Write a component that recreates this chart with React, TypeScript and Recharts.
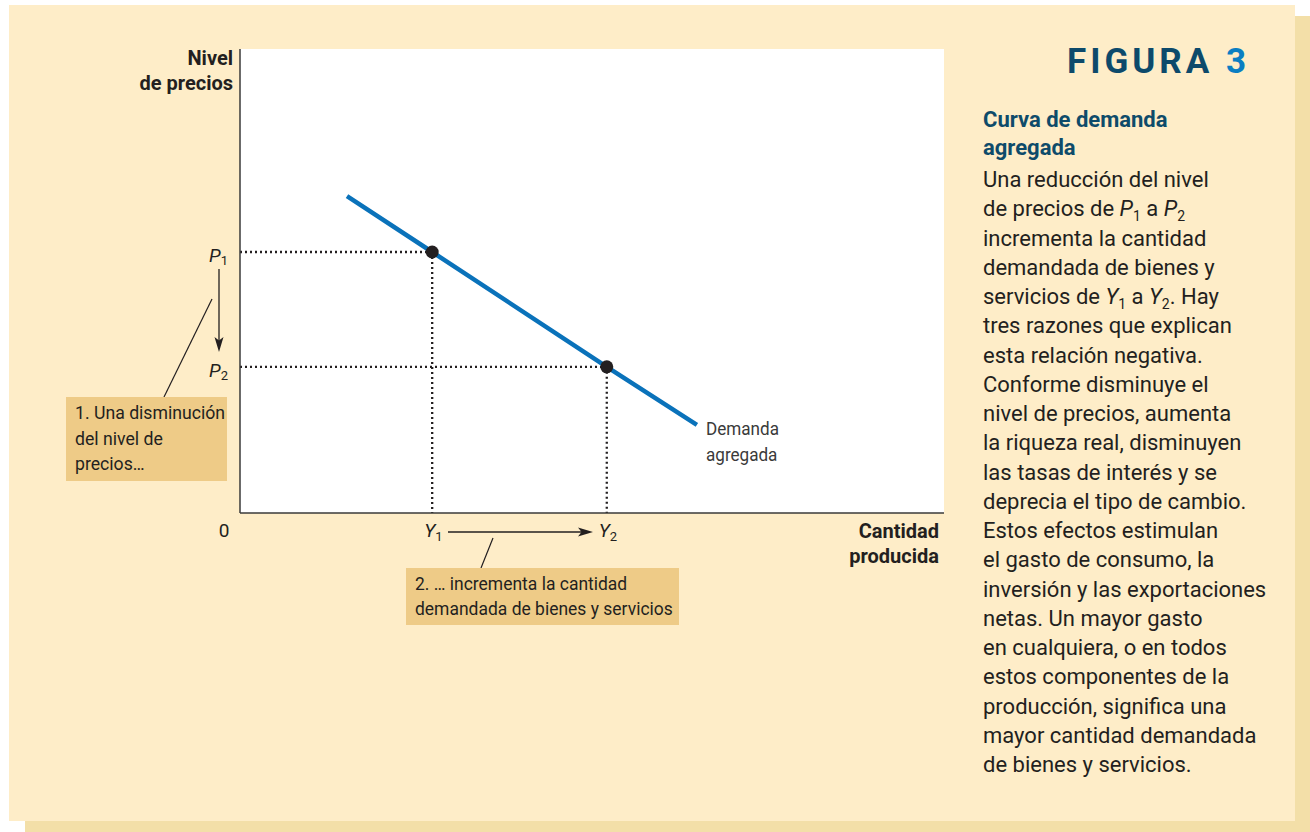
import React from 'react';
import { ComposedChart, Line, Scatter, XAxis, YAxis, ReferenceLine, CartesianGrid } from 'recharts';

// ---- data ----
const demandX = [15.2, 27.3, 52.1, 64.9];
const demandY = [68.3, 56.25, 31.5, 19.0];
const quantityValues = [27.3, 52.1]; // Y1, Y2
const priceValues = [56.25, 31.5]; // P1, P2
const tickSubs = ['1', '2'];
const demandData = demandX.map((x, i) => ({ x, y: demandY[i] }));
const pointData = quantityValues.map((x, i) => ({ x, y: priceValues[i] }));

const bodyLines = [
  'Una reducción del nivel',
  'de precios de |P|1| a |P|2',
  'incrementa la cantidad',
  'demandada de bienes y',
  'servicios de |Y|1| a |Y|2|. Hay',
  'tres razones que explican',
  'esta relación negativa.',
  'Conforme disminuye el',
  'nivel de precios, aumenta',
  'la riqueza real, disminuyen',
  'las tasas de interés y se',
  'deprecia el tipo de cambio.',
  'Estos efectos estimulan',
  'el gasto de consumo, la',
  'inversión y las exportaciones',
  'netas. Un mayor gasto',
  'en cualquiera, o en todos',
  'estos componentes de la',
  'producción, significa una',
  'mayor cantidad demandada',
  'de bienes y servicios.',
];
const titleLines = ['Curva de demanda', 'agregada'];
const box1Lines = ['1. Una disminución', 'del nivel de', 'precios…'];
const box2Lines = ['2. … incrementa la cantidad', 'demandada de bienes y servicios'];
const curveLabel = ['Demanda', 'agregada'];
const yTitle = ['Nivel', 'de precios'];
const xTitle = ['Cantidad', 'producida'];

const FONT = 'Roboto, "Noto Sans", sans-serif';
const INK = '#231F20';

const PriceTick = (props: any) => {
  const { x, y, payload } = props;
  const i = priceValues.indexOf(payload.value);
  if (i < 0) return null;
  return (
    <text x={x} y={y + 10} textAnchor="end" fontFamily={FONT} fontSize={19} fill={INK}>
      <tspan fontStyle="italic">P</tspan>
      <tspan fontSize={13} dy={3}>{tickSubs[i]}</tspan>
    </text>
  );
};

const QuantityTick = (props: any) => {
  const { x, y, payload } = props;
  if (payload.value === 0) {
    return (
      <text x={x - 16} y={y + 24} textAnchor="middle" fontFamily={FONT} fontSize={19} fill={INK}>0</text>
    );
  }
  const i = quantityValues.indexOf(payload.value);
  if (i < 0) return null;
  return (
    <text x={x - 8} y={y + 24} textAnchor="start" fontFamily={FONT} fontSize={19} fill={INK}>
      <tspan fontStyle="italic">Y</tspan>
      <tspan fontSize={13} dy={4}>{tickSubs[i]}</tspan>
    </text>
  );
};

const renderRich = (line: string) => {
  const parts = line.split('|');
  const out: any[] = [];
  parts.forEach((p, k) => {
    if (k === 0) { out.push(<tspan key={k}>{p}</tspan>); return; }
    const m = (k - 1) % 3;
    if (m === 0) out.push(<tspan key={k} fontStyle="italic">{p}</tspan>);
    else if (m === 1) out.push(<tspan key={k} fontSize={14} dy={5}>{p}</tspan>);
    else out.push(<tspan key={k} dy={-5}>{p}</tspan>);
  });
  return out;
};

const Cond = ({ x, y, sx, children, ...rest }: any) => (
  <text transform={`translate(${x},${y}) scale(${sx},1)`} x={0} y={0} {...rest}>{children}</text>
);

export default function App() {
  return (
    <div style={{ position: 'absolute', left: 0, top: 0, width: 1310, height: 832, background: '#ffffff', overflow: 'hidden' }}>
      <div style={{ position: 'absolute', left: 25, top: 16, width: 1285, height: 816, background: '#F3DFA8' }} />
      <div style={{ position: 'absolute', left: 9, top: 5, width: 1286, height: 816, background: '#FEEDC8' }} />
      <div style={{ position: 'absolute', left: 0, top: 0 }}>
        <ComposedChart width={1310} height={832} margin={{ top: 49, right: 366, bottom: 289, left: 200 }}>
          <CartesianGrid horizontal={false} vertical={false} fill="#ffffff" stroke="none" />
          <XAxis
            type="number"
            dataKey="x"
            domain={[0, 100]}
            ticks={[0, ...quantityValues]}
            interval={0}
            height={30}
            tickSize={0}
            tickMargin={0}
            axisLine={{ stroke: '#3a3a3a', strokeWidth: 1.5 }}
            tickLine={false}
            tick={(p: any) => <QuantityTick {...p} />}
            allowDataOverflow
          />
          <YAxis
            type="number"
            dataKey="y"
            domain={[0, 100]}
            ticks={priceValues}
            interval={0}
            width={40}
            tickSize={0}
            tickMargin={12}
            axisLine={{ stroke: '#3a3a3a', strokeWidth: 1.5 }}
            tickLine={false}
            tick={(p: any) => <PriceTick {...p} />}
            allowDataOverflow
          />
          {pointData.map((pt, i) => (
            <ReferenceLine
              key={'h' + i}
              segment={[{ x: 0, y: pt.y }, { x: pt.x, y: pt.y }]}
              stroke={INK}
              strokeWidth={2.3}
              strokeDasharray="2 3"
            />
          ))}
          {pointData.map((pt, i) => (
            <ReferenceLine
              key={'v' + i}
              segment={[{ x: pt.x, y: pt.y }, { x: pt.x, y: 0 }]}
              stroke={INK}
              strokeWidth={2.3}
              strokeDasharray="2 3"
            />
          ))}
          <Line
            data={demandData}
            dataKey="y"
            type="linear"
            stroke="#0A72BA"
            strokeWidth={4.5}
            dot={false}
            activeDot={false}
            isAnimationActive={false}
          />
          <Scatter
            data={pointData}
            dataKey="y"
            isAnimationActive={false}
            shape={(p: any) => <circle cx={p.cx} cy={p.cy} r={6.5} fill={INK} />}
          />
        </ComposedChart>
      </div>
      <svg width={1310} height={832} style={{ position: 'absolute', left: 0, top: 0, pointerEvents: 'none' }} fontFamily={FONT}>
        {/* axis titles */}
        <text x={233} y={65} textAnchor="end" fontSize={20} fontWeight={700} fill={INK}>{yTitle[0]}</text>
        <text x={233} y={90} textAnchor="end" fontSize={20} fontWeight={700} fill={INK}>{yTitle[1]}</text>
        <text x={939} y={538} textAnchor="end" fontSize={20} fontWeight={700} fill={INK}>{xTitle[0]}</text>
        <text x={939} y={563} textAnchor="end" fontSize={20} fontWeight={700} fill={INK}>{xTitle[1]}</text>
        {/* curve label */}
        <Cond x={706} y={435} sx={0.9} fontSize={19} fill="#3a3a3a">{curveLabel[0]}</Cond>
        <Cond x={706} y={461} sx={0.9} fontSize={19} fill="#3a3a3a">{curveLabel[1]}</Cond>
        {/* P arrow */}
        <line x1={219} y1={269} x2={219} y2={342} stroke={INK} strokeWidth={1.3} />
        <polygon points="219,352 214.5,337 219,340.5 223.5,337" fill={INK} />
        <line x1={212} y1={299} x2={164} y2={397} stroke={INK} strokeWidth={1.2} />
        {/* Y arrow */}
        <line x1={448} y1={532} x2={583} y2={532} stroke={INK} strokeWidth={1.3} />
        <polygon points="593,532 578,527.5 581.5,532 578,536.5" fill={INK} />
        <line x1={493} y1={538} x2={481} y2={568} stroke={INK} strokeWidth={1.2} />
        {/* box 1 */}
        <rect x={66} y={397} width={161} height={84} fill="#EECB87" />
        {box1Lines.map((t, i) => (
          <Cond key={i} x={75} y={419 + i * 25.5} sx={0.93} fontSize={19} fill={INK}>{t}</Cond>
        ))}
        {/* box 2 */}
        <rect x={406} y={568} width={273} height={57} fill="#EECB87" />
        {box2Lines.map((t, i) => (
          <Cond key={i} x={415} y={590 + i * 25} sx={0.92} fontSize={19} fill={INK}>{t}</Cond>
        ))}
        {/* figure title */}
        <text x={1067} y={73} fontSize={35} fontWeight={700} letterSpacing={4} fill="#0D4A6B">
          FIGURA <tspan fill="#0A7EC2">3</tspan>
        </text>
        {titleLines.map((t, i) => (
          <text key={i} x={983} y={127 + i * 28} fontSize={22} fontWeight={700} fill="#0E4B6A">{t}</text>
        ))}
        {bodyLines.map((t, i) => (
          <text key={i} x={983} y={187 + i * 29.25} fontSize={22} fill={INK}>{renderRich(t)}</text>
        ))}
      </svg>
    </div>
  );
}
